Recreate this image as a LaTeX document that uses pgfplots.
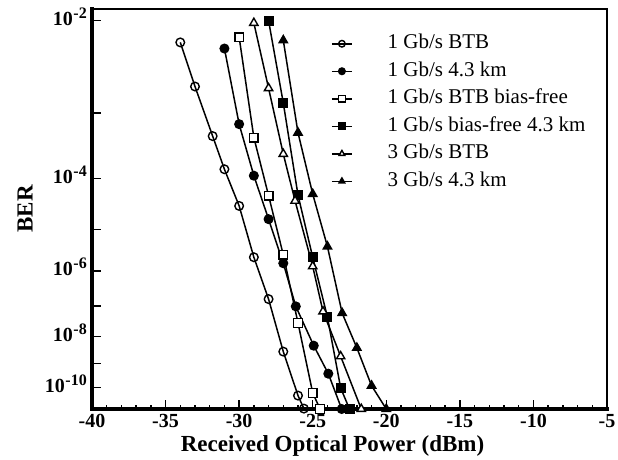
\documentclass[border=0pt]{standalone}
\usepackage{fontspec}
\setmainfont{Liberation Serif}
\usepackage{pgfplots}
\pgfplotsset{compat=1.18}
\newcommand\tp[1]{10\raisebox{7pt}{\fontsize{16}{16}\selectfont\kern0.5pt #1}}
\begin{document}
\begin{tikzpicture}
\useasboundingbox (-92pt,-50pt) rectangle (526pt,409pt);
\begin{axis}[
  scale only axis, width=515pt, height=400pt,
  at={(0,0)}, anchor=south west,
  xmin=-40, xmax=-5, ymin=-11, ymax=-1.9,
  y coord trafo/.code={\pgfmathparse{-ln(-(#1))/ln(10)}},
  y coord inv trafo/.code={\pgfmathparse{-exp(-ln(10)*(#1))}},
  xtick={-40,-35,-30,-25,-20,-15,-10,-5},
  xticklabels={-40,-35,-30,-25,-20,-15,-10,-5},
  minor x tick num=4,
  ytick={-2,-3,-4,-5,-6,-7,-8,-9,-10},
  yticklabels={\tp{-2},,\tp{-4},,\tp{-6},,\tp{-8},,\tp{-10}},
  tick pos=left, tick align=inside,
  major tick length=9pt, minor tick length=4.5pt,
  tick style={black, line width=1.5pt},
  axis line style={line width=2.2pt, line cap=rect},
  xticklabel style={font=\fontsize{20}{24}\selectfont\bfseries, inner sep=0pt, anchor=north, yshift=-5pt},
  yticklabel style={font=\fontsize{20}{24}\selectfont\bfseries, inner sep=0pt, anchor=base east, xshift=-5pt, yshift=-5pt},
  xlabel={Received Optical Power (dBm)},
  ylabel={BER},
  xlabel style={font=\fontsize{23}{27}\selectfont\bfseries, at={(axis description cs:0.467,0)}, anchor=base, yshift=-42pt},
  ylabel style={font=\fontsize{23}{27}\selectfont\bfseries, at={(axis description cs:-0.13,0.5)}, anchor=center},
  clip=false,
  legend style={draw=none, fill=none, at={(0.464,0.948)}, anchor=north west,
    font=\fontsize{21}{25}\selectfont, inner sep=0pt, row sep=0pt, column sep=35pt,
    nodes={inner ysep=4.25pt, inner xsep=0pt, text height=14.5pt, text depth=4.5pt}},
  legend cell align=left,
  legend image code/.code={\draw[mark repeat=2,mark phase=2,#1] plot coordinates {(0pt,0pt) (10pt,0pt) (20pt,0pt)};},
  legend image post style={mark size=3.3pt},
  every axis plot/.append style={line width=1.5pt, black, mark size=4.3pt},
]
\addplot[mark=o, mark options={fill=white, line width=1.4pt}] coordinates {
(-34,-2.20) (-33,-2.67) (-31.8,-3.32) (-31,-3.84) (-30,-4.51) (-29,-5.65) (-28,-6.79) (-27,-8.55) (-26,-10.37) (-25.6,-10.98)};
\addlegendentry{1 Gb/s BTB}
\addplot[mark=*, mark options={fill=black, line width=1.4pt}] coordinates {
(-31,-2.26) (-30,-3.15) (-29,-3.95) (-28,-4.78) (-27,-5.80) (-26.15,-7.01) (-24.93,-8.33) (-23.94,-9.42) (-23.03,-11)};
\addlegendentry{1 Gb/s 4.3 km}
\addplot[mark=square*, mark options={fill=white, line width=1.4pt}] coordinates {
(-30,-2.15) (-29,-3.34) (-28,-4.31) (-27,-5.59) (-26,-7.54) (-25,-10.25) (-24.5,-11)};
\addlegendentry{1 Gb/s BTB bias-free}
\addplot[mark=square*, mark options={fill=black, line width=1.4pt}] coordinates {
(-28,-2.0) (-27,-2.87) (-26,-4.30) (-25,-5.65) (-24,-7.35) (-23.1,-10.03) (-22.5,-11)};
\addlegendentry{1 Gb/s bias-free 4.3 km}
\addplot[mark=triangle*, mark options={fill=white, line width=1.4pt}, mark size=4.8pt] coordinates {
(-29,-2.02) (-28,-2.69) (-27,-3.59) (-26.2,-4.41) (-25,-5.88) (-24.3,-7.17) (-23.1,-8.73) (-21.7,-11)};
\addlegendentry{3 Gb/s BTB}
\addplot[mark=triangle*, mark options={fill=black, line width=1.4pt}, mark size=4.8pt] coordinates {
(-27,-2.18) (-26,-3.27) (-25,-4.28) (-24,-5.39) (-23,-7.22) (-22,-8.41) (-21,-9.93) (-20,-11)};
\addlegendentry{3 Gb/s 4.3 km}
\draw[black, line width=2.5pt, line cap=rect] (rel axis cs:0,1) -- (rel axis cs:1,1) -- (rel axis cs:1,0);
\draw[black, line width=3.5pt, line cap=rect] (rel axis cs:0,1) -- (rel axis cs:0,0) -- (rel axis cs:1,0);
\end{axis}
\end{tikzpicture}
\end{document}
